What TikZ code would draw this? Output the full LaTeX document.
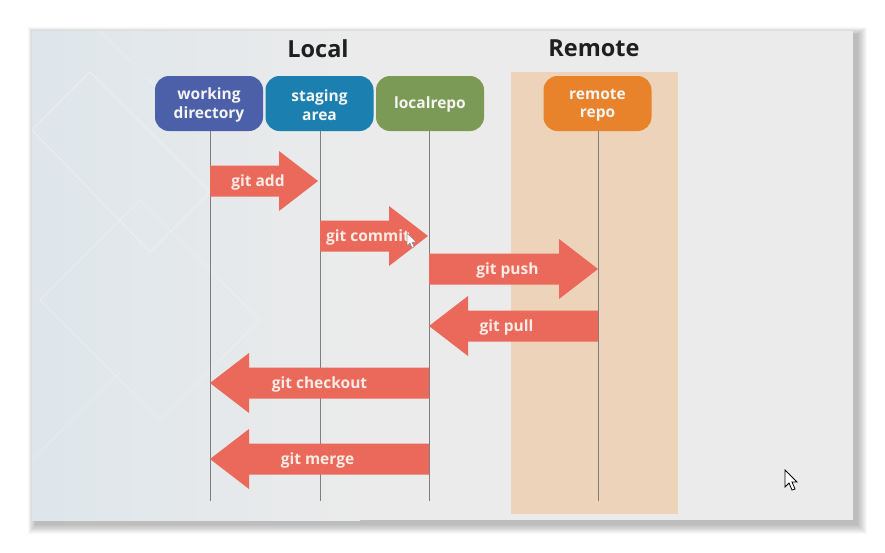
\documentclass[tikz,border=0pt]{standalone}
\usepackage{fontspec}
\setmainfont{Open Sans}
\usetikzlibrary{calc}
\definecolor{slide}{HTML}{EBEBEB}
\definecolor{slideblue}{HTML}{DEE6EB}
\definecolor{panel}{HTML}{ECD3B9}
\definecolor{wdc}{HTML}{4B60A8}
\definecolor{sac}{HTML}{1B80B0}
\definecolor{lrc}{HTML}{7B9A56}
\definecolor{rrc}{HTML}{E8832B}
\definecolor{arrc}{HTML}{EA695B}
\definecolor{lblc}{HTML}{FBECE6}
\definecolor{lifec}{HTML}{7E7E7E}
\tikzset{
  box/.style={rounded corners=14pt, minimum width=108pt, minimum height=55pt, inner sep=0pt},
  boxtext/.style={inner sep=0pt, text=white!92!gray, align=center, font=\fontsize{15.5}{18.5}\selectfont\bfseries},
  title/.style={font=\fontsize{23.5}{28}\selectfont\bfseries, text=black!88},
  life/.style={draw=lifec, line width=0.9pt},
  arr/.style={fill=arrc},
  lbl/.style={text=lblc, font=\fontsize{15.5}{18.5}\selectfont\bfseries, inner sep=0pt},
  cursor/.style={fill=white, draw=black, line width=0.8pt, line join=miter}
}
\newcommand\gitarrowR[5]{%
  \fill[arr] (#2,#4-15.5) -- (#3-39,#4-15.5) -- (#3-39,#4-30) -- (#3,#4) -- (#3-39,#4+30) -- (#3-39,#4+15.5) -- (#2,#4+15.5) -- cycle;
  \node[lbl] (#1) at ({(#2+#3)/2-6},#4+1) {#5};}
\newcommand\gitarrowL[6]{%
  \fill[arr] (#2,#4-15.5) -- (#3+39,#4-15.5) -- (#3+39,#4-30) -- (#3,#4) -- (#3+39,#4+30) -- (#3+39,#4+15.5) -- (#2,#4+15.5) -- cycle;
  \node[lbl] (#1) at ({(#2+#3)/2+#6},#4+1) {#5};}
\begin{document}
\begin{tikzpicture}[x=1pt,y=-1pt]
\fill[white] (0,0) rectangle (885,552);
\useasboundingbox (0,0) rectangle (885,552);
% shadow
\foreach \i in {1,...,10}{
  \fill[black,opacity=0.028] (36-\i*0.8,35-\i*0.8) rectangle (857+\i,524+\i);
}
% slide
\fill[slide] (32,31) rectangle (853,520);
\begin{scope}
\clip (32,31) rectangle (853,520);
\shade[left color=slideblue, right color=slide] (32,31) rectangle (360,520);
\draw[white, opacity=0.3, line width=1pt] (32,130) -- (90,72) -- (210,192) -- (150,252) -- cycle;
\draw[white, opacity=0.25, line width=1pt] (40,300) -- (140,200) -- (260,320) -- (160,420) -- cycle;
\draw[white, opacity=0.2, line width=1pt] (100,31) -- (200,131);
\draw[white, opacity=0.2, line width=1pt] (32,460) -- (120,372);
\end{scope}
% remote panel
\fill[panel] (511,72) rectangle (678,514);
% titles
\node[title] (local) at (318,49) {Local};
\node[title] (remote) at (594,48) {Remote};
% boxes
\node[box, fill=wdc] (wd) at (209,103.5) {};
\node[box, fill=sac] (sa) at (319.5,103.5) {};
\node[box, fill=lrc] (lr) at (430,103.5) {};
\node[box, fill=rrc] (rr) at (597.5,103.5) {};
\node[boxtext] (wdt) at (209,105) {working\\directory};
\node[boxtext] (sat) at (319.5,105) {staging\\area};
\node[boxtext] (lrt) at (430,104.5) {localrepo};
\node[boxtext] (rrt) at (597.5,105) {remote\\repo};
% lifelines
\coordinate (wdend) at (210,501);
\coordinate (saend) at (320,501);
\coordinate (lrend) at (429,501);
\coordinate (rrend) at (598,501);
\draw[life] (wd.south -| wdend) -- (wdend);
\draw[life] (sa.south -| saend) -- (saend);
\draw[life] (lr.south -| lrend) -- (lrend);
\draw[life] (rr.south -| rrend) -- (rrend);
% arrows
\gitarrowR{add}{210}{318}{181}{git add}
\gitarrowR{commit}{320}{428}{236}{git commit}
\gitarrowR{push}{429}{598}{269}{git push}
\gitarrowL{pull}{598}{429}{326}{git pull}{-7}
\gitarrowL{checkout}{429}{210}{383}{git checkout}{0}
\gitarrowL{merge}{429}{210}{459}{git merge}{-2}
% cursors
\draw[cursor] (785,470) -- (785,487) -- (789,483) -- (792,490) -- (795,489) -- (792,482) -- (797,482) -- cycle;
\draw[cursor, draw=black!45, line width=0.5pt] (407,233) -- (407,246) -- (410,243) -- (412,248) -- (414,247) -- (412,242) -- (416,242) -- cycle;
\end{tikzpicture}
\end{document}
